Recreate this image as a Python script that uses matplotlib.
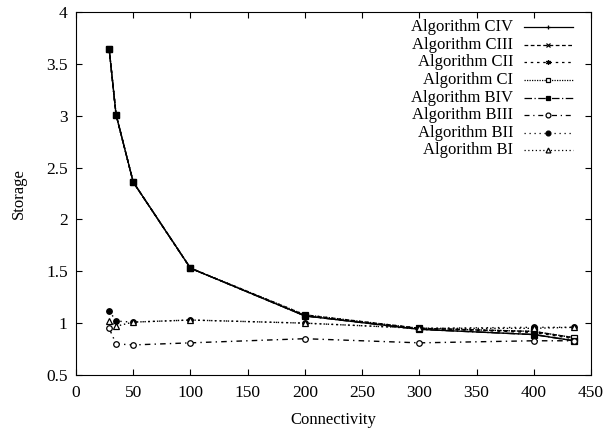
import matplotlib
matplotlib.use('Agg')
import matplotlib.pyplot as plt
from matplotlib.ticker import FuncFormatter

plt.rcParams['font.family'] = ['Liberation Serif', 'DejaVu Serif']

connectivity = [29, 35, 50, 100, 200, 300, 400, 435]

civ = [3.64, 3.01, 2.36, 1.53, 1.07, 0.94, 0.89, 0.83]
ciii = [3.64, 3.01, 2.36, 1.53, 1.07, 0.95, 0.92, 0.86]
cii = [3.64, 3.01, 2.36, 1.53, 1.08, 0.95, 0.91, 0.85]
ci = [3.64, 3.01, 2.36, 1.53, 1.08, 0.95, 0.92, 0.86]
biv = [3.64, 3.01, 2.36, 1.53, 1.07, 0.94, 0.89, 0.83]
biii = [0.95, 0.80, 0.79, 0.81, 0.85, 0.81, 0.83, 0.83]
bii = [1.12, 1.02, 1.01, 1.03, 1.00, 0.95, 0.96, 0.96]
bi = [1.02, 0.97, 1.01, 1.03, 1.00, 0.95, 0.95, 0.96]

labels = ['Algorithm CIV', 'Algorithm CIII', 'Algorithm CII', 'Algorithm CI',
          'Algorithm BIV', 'Algorithm BIII', 'Algorithm BII', 'Algorithm BI']
series = [civ, ciii, cii, ci, biv, biii, bii, bi]

# gnuplot-ish styles: (linestyle, marker, filled)
styles = [
    ('-', '+', True),
    ((0, (3, 2)), 'x', True),
    ((0, (2, 3)), (6, 2, 0), True),
    ((0, (1, 1)), 's', False),
    ((0, (6, 2, 1, 2)), 's', True),
    ((0, (4, 3, 1, 3)), 'o', False),
    ((0, (1, 3)), 'o', True),
    ((0, (1, 2)), '^', False),
]

fig = plt.figure(figsize=(6.06, 4.30), dpi=100)
ax = fig.add_axes([76/606, 1 - 375/430, 515/606, 363/430])

for ys, (ls, mk, filled) in zip(series, styles):
    ax.plot(connectivity, ys, color='black', linestyle=ls, linewidth=1.0,
            marker=mk, markersize=4, markeredgewidth=0.9,
            markerfacecolor='black' if filled else 'white',
            markeredgecolor='black')

# legend drawn by hand so text is right aligned like gnuplot
for i, (lab, (ls, mk, filled)) in enumerate(zip(labels, styles)):
    yy = 0.958 - i * 0.0484
    ax.text(0.849, yy, lab, transform=ax.transAxes, ha='right', va='center',
            fontsize=12)
    ax.plot([0.870, 0.965], [yy, yy], transform=ax.transAxes, color='black',
            linestyle=ls, linewidth=0.9, clip_on=False)
    ax.plot([0.917], [yy], transform=ax.transAxes, color='black',
            marker=mk, markersize=3.5, markeredgewidth=0.9,
            markerfacecolor='black' if filled else 'white',
            markeredgecolor='black', clip_on=False)

ax.set_xlim(0, 450)
ax.set_ylim(0.5, 4)
ax.set_xticks(range(0, 451, 50))
ax.set_yticks([0.5, 1, 1.5, 2, 2.5, 3, 3.5, 4])
ax.yaxis.set_major_formatter(FuncFormatter(lambda v, p: '%g' % v))
ax.tick_params(direction='in', top=True, right=True, length=4, labelsize=12.5)
ax.tick_params(axis='x', pad=7)
ax.tick_params(axis='y', pad=6)
ax.set_xlabel('Connectivity', fontsize=12, labelpad=8)
ax.set_ylabel('Storage', fontsize=12, labelpad=14)

fig.savefig('out.png', dpi=100)
